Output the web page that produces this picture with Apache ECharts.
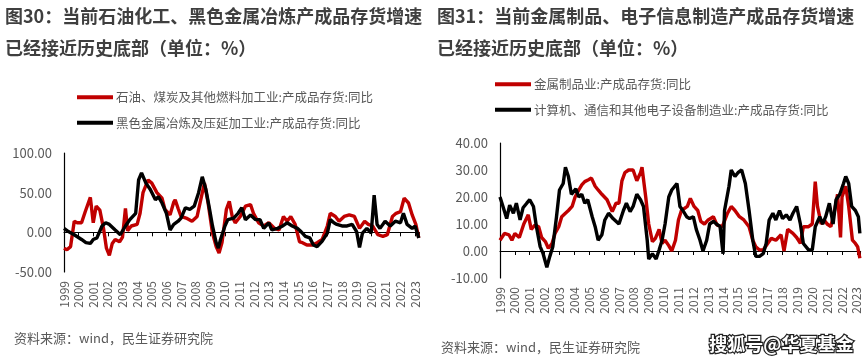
<!DOCTYPE html>
<html><head><meta charset="utf-8">
<script src="https://cdn.jsdelivr.net/npm/echarts@6/dist/echarts.min.js"></script>
<style>html,body{margin:0;padding:0;background:#fff}#c{width:865px;height:362px}</style>
</head><body><div id="c"></div>
<script>
// ---- Data (time as decimal year, value %) ----
const oilName = '石油、煤炭及其他燃料加工业:产成品存货:同比';
const steelName = '黑色金属冶炼及压延加工业:产成品存货:同比';
const metalName = '金属制品业:产成品存货:同比';
const elecName = '计算机、通信和其他电子设备制造业:产成品存货:同比';

const oilData = [[1999.0,-20],[1999.2,-22],[1999.45,-18],[1999.7,14],[1999.9,12],[2000.2,12],[2000.45,26],[2000.8,44],[2001.0,12],[2001.2,33],[2001.45,28],[2001.7,5],[2001.9,-20],[2002.1,-29],[2002.3,-14],[2002.5,-9],[2002.8,-12],[2003.0,-6],[2003.2,30],[2003.35,2],[2003.6,8],[2004.0,10],[2004.2,24],[2004.4,50],[2004.75,66],[2005.0,62],[2005.35,50],[2005.7,43],[2005.9,29],[2006.25,22],[2006.5,38],[2006.6,41],[2006.8,30],[2007.0,20],[2007.35,18],[2007.75,14],[2008.1,20],[2008.3,37],[2008.6,62],[2008.85,37],[2009.15,-1],[2009.4,-18],[2009.6,-26],[2009.8,-13],[2010.1,29],[2010.3,39],[2010.5,20],[2010.7,12],[2011.05,20],[2011.4,33],[2011.75,35],[2011.95,24],[2012.3,12],[2012.65,8],[2013.0,12],[2013.4,5],[2013.7,3],[2014.0,20],[2014.25,14],[2014.5,20],[2014.8,10],[2015.1,-12],[2015.3,-13],[2015.6,-16],[2016.0,-16],[2016.3,-13],[2016.65,-9],[2017.0,8],[2017.2,24],[2017.55,20],[2017.8,14],[2018.15,20],[2018.5,22],[2018.85,20],[2019.2,5],[2019.55,14],[2019.8,10],[2020.1,8],[2020.45,-3],[2020.8,-5],[2021.1,-3],[2021.45,20],[2021.7,24],[2022.0,26],[2022.25,43],[2022.55,37],[2022.8,22],[2023.05,10],[2023.25,-7]];

const steelData = [[1999.0,5],[1999.3,1],[1999.7,-3],[2000.2,-9],[2000.5,-13],[2000.8,-14],[2001.0,-9],[2001.25,-7],[2001.6,8],[2001.85,12],[2002.1,10],[2002.5,3],[2002.85,-3],[2003.2,8],[2003.5,16],[2003.9,24],[2004.1,66],[2004.3,75],[2004.6,62],[2004.9,54],[2005.25,41],[2005.45,45],[2005.7,37],[2006.0,24],[2006.25,3],[2006.5,10],[2006.8,14],[2007.0,18],[2007.3,31],[2007.6,29],[2007.9,33],[2008.2,50],[2008.45,70],[2008.7,54],[2008.95,29],[2009.15,8],[2009.4,-13],[2009.55,-20],[2009.7,-9],[2010.0,8],[2010.2,16],[2010.6,18],[2010.9,24],[2011.15,31],[2011.4,16],[2011.75,22],[2012.1,16],[2012.4,16],[2012.65,5],[2013.0,12],[2013.2,3],[2013.6,5],[2013.95,8],[2014.25,12],[2014.6,8],[2014.95,5],[2015.2,1],[2015.5,-5],[2015.8,-7],[2016.05,-16],[2016.3,-18],[2016.65,-11],[2017.0,-1],[2017.2,16],[2017.45,12],[2017.65,10],[2018.0,8],[2018.35,8],[2018.7,10],[2019.0,1],[2019.2,-19],[2019.4,-1],[2019.7,5],[2020.0,-1],[2020.2,47],[2020.4,10],[2020.6,5],[2020.95,14],[2021.3,8],[2021.65,14],[2022.0,12],[2022.2,24],[2022.45,10],[2022.8,5],[2023.0,8],[2023.25,-7]];

const metalData = [[1999.0,4],[1999.3,6.5],[1999.6,6],[1999.8,4],[2000.0,6.5],[2000.3,5],[2000.6,10],[2000.9,13.4],[2001.1,8],[2001.35,9.6],[2001.6,9],[2001.8,5],[2002.05,3.5],[2002.25,1],[2002.5,2.8],[2002.7,6.5],[2002.95,9],[2003.15,12.7],[2003.4,14],[2003.6,15],[2003.85,16.5],[2004.05,20],[2004.3,22.6],[2004.5,24.5],[2004.7,25.7],[2004.95,26.4],[2005.15,27],[2005.4,24],[2005.6,22.6],[2005.85,21],[2006.2,19],[2006.55,14.6],[2006.8,17.7],[2007.0,17.7],[2007.2,26],[2007.4,29],[2007.65,30],[2007.95,30],[2008.2,26],[2008.45,29],[2008.55,31],[2008.8,20],[2009.0,10],[2009.25,3.5],[2009.45,4.7],[2009.7,8],[2009.9,2.8],[2010.1,4],[2010.35,2],[2010.55,0],[2010.8,4],[2011.0,11.5],[2011.2,15],[2011.6,16.5],[2011.8,19.5],[2012.05,16.5],[2012.3,15],[2012.5,11],[2012.75,10],[2013.0,11.5],[2013.35,12.7],[2013.6,9.6],[2013.95,9],[2014.3,14],[2014.55,16.5],[2014.8,15],[2015.1,12.7],[2015.4,11.5],[2015.75,9],[2016.0,4],[2016.2,1.6],[2016.45,0.4],[2016.7,0.4],[2017.0,2.8],[2017.25,4.7],[2017.55,4],[2017.9,6],[2018.1,0],[2018.35,8],[2018.7,6.5],[2018.95,5],[2019.2,2.8],[2019.4,9],[2019.75,9],[2020.0,10],[2020.2,25.7],[2020.35,16.5],[2020.6,10],[2020.8,11.5],[2021.0,10],[2021.25,9],[2021.5,15],[2021.7,21],[2021.9,5],[2022.0,20],[2022.25,24],[2022.45,16.5],[2022.7,4],[2022.9,2.8],[2023.05,1.6],[2023.2,-2.7]];

const elecData = [[1999.0,20],[1999.2,16.5],[1999.45,12],[1999.65,17],[1999.9,14],[2000.1,17.7],[2000.35,11.5],[2000.55,16],[2000.8,17.7],[2001.0,19],[2001.25,16.5],[2001.45,9],[2001.7,1.6],[2001.9,-1],[2002.15,-6],[2002.35,-2],[2002.55,1.6],[2002.8,12.7],[2003.0,22.6],[2003.25,25],[2003.4,31],[2003.6,27.6],[2003.8,21],[2004.1,23],[2004.3,20],[2004.5,21],[2004.7,17.7],[2004.9,19],[2005.2,12.7],[2005.4,9],[2005.6,4],[2005.85,6],[2006.05,11.5],[2006.3,14],[2006.6,12],[2007.0,10],[2007.3,15],[2007.5,17.7],[2007.75,14.6],[2007.95,16.5],[2008.2,21],[2008.45,19],[2008.65,16.5],[2008.9,4],[2009.0,-3],[2009.25,-1],[2009.5,-3],[2009.7,0.4],[2009.9,4],[2010.1,10],[2010.35,20],[2010.55,22.6],[2010.9,25],[2011.1,16.5],[2011.3,15],[2011.55,12.7],[2011.75,12],[2012.0,12.7],[2012.2,8],[2012.45,4],[2012.65,0],[2012.9,4],[2013.1,10],[2013.35,11],[2013.55,10],[2013.8,9],[2014.0,-1],[2014.1,15],[2014.4,24],[2014.55,30],[2014.8,27.6],[2015.0,29],[2015.25,30],[2015.5,25],[2015.75,15],[2016.0,4],[2016.2,-2],[2016.45,-2],[2016.7,-1],[2016.9,2.8],[2017.1,11.5],[2017.35,14],[2017.55,11.5],[2017.8,15],[2018.0,12],[2018.25,13.4],[2018.5,11.5],[2018.7,14],[2018.95,16.5],[2019.2,10],[2019.4,2.8],[2019.75,0.4],[2020.0,0.4],[2020.2,9],[2020.5,12.7],[2020.7,10],[2020.9,12.7],[2021.15,17.7],[2021.4,10],[2021.6,19],[2021.85,21],[2022.1,25],[2022.25,27.6],[2022.45,25],[2022.65,16.5],[2022.9,15],[2023.1,12.7],[2023.2,6.5]];

// ---- Styling ----
const RED = '#C00000', BLACK = '#000000', GRAY = '#595959';
const FONT = '"Noto Sans CJK SC", "Noto Sans", sans-serif';
const chart = echarts.init(document.getElementById('c'));

function xAxes(gridIndex, max) {
  const base = { type: 'value', gridIndex, min: 1999, max, interval: 1, splitLine: { show: false } };
  return [
    Object.assign({}, base, {
      axisLine: { onZero: true, lineStyle: { color: '#000', width: 1.2 } },
      axisTick: { show: true, length: 4, lineStyle: { color: '#000' } },
      axisLabel: { show: false }
    }),
    Object.assign({}, base, {
      position: 'bottom',
      axisLine: { show: false, onZero: false },
      axisTick: { show: false },
      axisLabel: {
        rotate: 90, margin: 9, color: GRAY, fontSize: 12, fontFamily: FONT,
        showMaxLabel: false,
        formatter: v => (Math.abs(v - Math.round(v)) < 1e-6 ? String(Math.round(v)) : '')
      }
    })
  ];
}
function yAxis(gridIndex, min, max, interval) {
  return {
    type: 'value', gridIndex, min, max, interval,
    axisLine: { show: true, lineStyle: { color: '#000', width: 1.2 } },
    axisTick: { show: false }, splitLine: { show: false },
    axisLabel: { color: GRAY, fontSize: 13, fontFamily: FONT, margin: 12, formatter: v => v.toFixed(2) }
  };
}
function line(name, data, color, xi, yi) {
  return { name, type: 'line', data, xAxisIndex: xi, yAxisIndex: yi, showSymbol: false, symbol: 'none',
    lineStyle: { color, width: 3.4 }, itemStyle: { color }, animation: false };
}

const option = {
  animation: false,
  grid: [
    { left: 64, right: 445.5, top: 153, bottom: 90 },
    { left: 500, right: 4.4, top: 143, bottom: 84 }
  ],
  xAxis: [...xAxes(0, 2023.3), ...xAxes(1, 2023.25)],
  yAxis: [yAxis(0, -50, 100, 50), yAxis(1, -10, 40, 10)],
  legend: [
    { data: [oilName, steelName], orient: 'vertical', left: 72, top: 86, itemGap: 13,
      itemWidth: 36, itemHeight: 4, icon: 'rect',
      textStyle: { color: GRAY, fontSize: 12.5, fontFamily: FONT, padding: [0, 0, 0, -2] } },
    { data: [metalName, elecName], orient: 'vertical', left: 490, top: 73, itemGap: 13,
      itemWidth: 36, itemHeight: 4, icon: 'rect',
      textStyle: { color: GRAY, fontSize: 12.5, fontFamily: FONT, padding: [0, 0, 0, -2] } }
  ],
  series: [
    line(oilName, oilData, RED, 0, 0),
    line(steelName, steelData, BLACK, 0, 0),
    line(metalName, metalData, RED, 2, 1),
    line(elecName, elecData, BLACK, 2, 1)
  ],
  graphic: [
    { type: 'text', left: 5, top: 7, style: { text: '图30：当前石油化工、黑色金属冶炼产成品存货增速', fill: '#3f3f3f', font: 'bold 18px ' + FONT } },
    { type: 'text', left: 5, top: 39, style: { text: '已经接近历史底部（单位：%）', fill: '#3f3f3f', font: 'bold 18px ' + FONT } },
    { type: 'text', left: 437, top: 7, style: { text: '图31：当前金属制品、电子信息制造产成品存货增速', fill: '#3f3f3f', font: 'bold 18px ' + FONT } },
    { type: 'text', left: 437, top: 39, style: { text: '已经接近历史底部（单位：%）', fill: '#3f3f3f', font: 'bold 18px ' + FONT } },
    { type: 'text', left: 14, top: 332, style: { text: '资料来源：wind，民生证券研究院', fill: GRAY, font: '13px ' + FONT } },
    { type: 'text', left: 441, top: 341, style: { text: '资料来源：wind，民生证券研究院', fill: GRAY, font: '13px ' + FONT } },
    { type: 'text', left: 708, top: 334, style: { text: '搜狐号@华夏基金', fill: '#fff', stroke: '#222', lineWidth: 2.5, font: 'bold 18px ' + FONT } }
  ]
};
chart.setOption(option);
</script></body></html>
